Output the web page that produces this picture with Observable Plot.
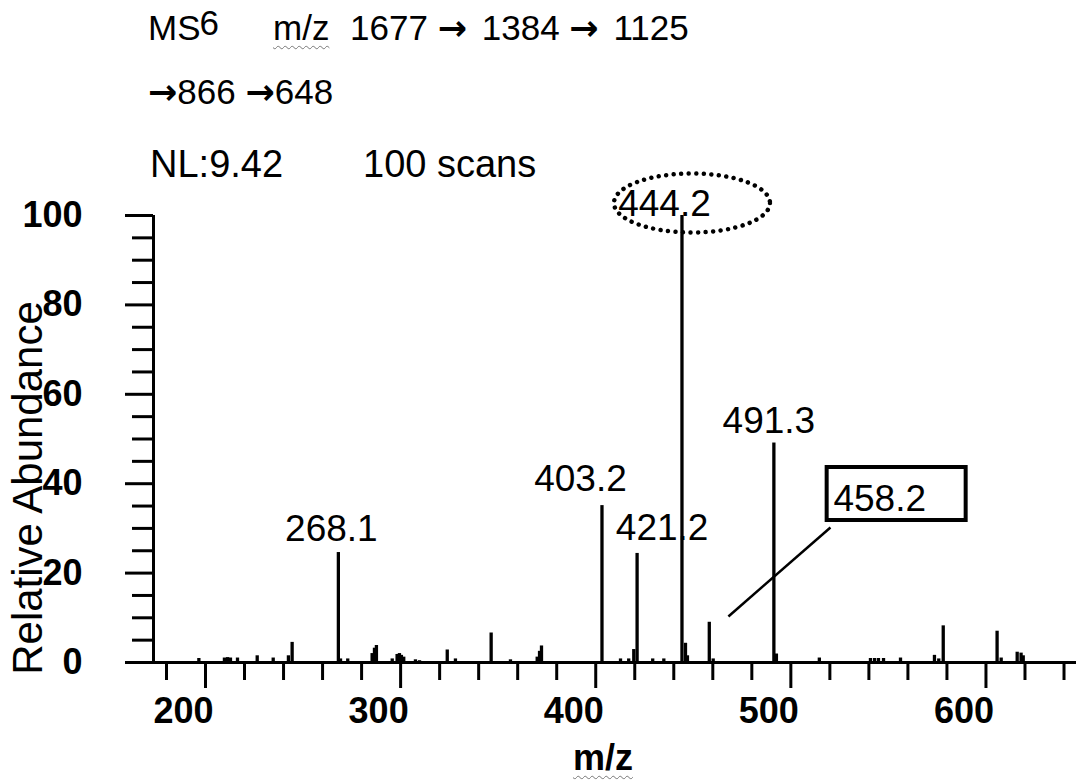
<!DOCTYPE html>
<html>
<head>
<meta charset="utf-8">
<script src="https://cdn.jsdelivr.net/npm/d3@7"></script>
<script src="https://cdn.jsdelivr.net/npm/@observablehq/plot@0.6"></script>
<style>
html, body { margin: 0; padding: 0; background: #fff; }
#wrap { position: relative; width: 1076px; height: 780px; overflow: hidden; font-family: "Liberation Sans", Arial, sans-serif; color: #000; background: #fff; }
#wrap svg { position: absolute; left: 0; top: 0; }
.t { position: absolute; white-space: pre; line-height: 1; }
.sq { text-decoration: underline wavy #777; text-decoration-thickness: 1px; text-underline-offset: 5px; }
.ar { font-family: "DejaVu Sans", sans-serif; font-weight: bold; }
.l1 .ar { margin-right: 5px; }
.l1 .sq { margin-right: 11px; }
</style>
</head>
<body>
<div id="wrap"></div>
<script>
// ---- data ----
const titleLine1a = "MS";
const titleLine1sup = "6";
const titleLine1b = ["m/z", "1677 \u2192 1384 \u2192 1125"];
const titleLine2 = "\u2192866 \u2192648";
const titleLine3a = "NL:9.42";
const titleLine3b = "100 scans";

const peakMz = [196.6, 209.7, 211.3, 212.8, 216.4, 226.5, 234.7, 242.5, 244.4, 268.1, 269.2, 272.9, 285.4, 286.6, 287.6, 295.7, 298.2, 299.4, 300.4, 301.6, 307.6, 309.7, 323.9, 328.1, 346.4, 356.3, 370.0, 371.2, 372.2, 403.2, 412.7, 416.9, 419.5, 421.2, 429.2, 434.9, 444.2, 446.0, 447.0, 458.2, 460.2, 491.3, 492.6, 514.6, 540.8, 542.9, 544.9, 547.5, 556.2, 573.6, 575.8, 578.1, 605.7, 607.8, 616.0, 618.0, 619.1];
const peakAbundance = [0.9, 1.0, 1.1, 1.0, 1.0, 1.5, 1.0, 1.5, 4.5, 24.6, 0.8, 0.8, 2.0, 3.2, 3.8, 0.8, 1.8, 2.0, 1.6, 1.2, 0.6, 0.4, 2.8, 0.8, 6.6, 0.6, 1.2, 2.5, 3.7, 35.1, 0.8, 0.8, 2.9, 24.4, 0.8, 0.8, 100, 4.3, 1.5, 9.0, 0.8, 49.1, 1.9, 1.0, 0.9, 0.9, 0.9, 0.9, 1.0, 1.6, 0.8, 8.2, 7.0, 1.0, 2.3, 2.1, 1.5];

const labelText = ["268.1", "403.2", "421.2", "444.2", "491.3"];
const labelMz = [268.1, 403.2, 421.2, 444.2, 491.3];
const labelAbundance = [24.6, 35.1, 24.4, 100, 49.1];

const calloutText = ["458.2"];
const calloutFrom = [468.0, 10.3];   // leader start (m/z, abundance)
const calloutTo = [520.3, 30.2];     // leader end / box anchor (m/z, abundance)

const xDomain = [173.35, 646.4];
const xMajorTicks = [200, 300, 400, 500, 600];
const xMinorTicks = [180, 220, 240, 260, 280, 320, 340, 360, 380, 420, 440, 460, 480, 520, 540, 560, 580, 620, 640];
const yMajorTicks = [0, 20, 40, 60, 80, 100];
const yMinorTicks = [5, 10, 15, 25, 30, 35, 45, 50, 55, 65, 70, 75, 85, 90, 95];

const xLabel = "m/z";
const yLabel = "Relative Abundance";

// ---- styles (offsets in px) ----
const labelOffsets = {
  "268.1": [-7, -12],
  "403.2": [-21.5, -15],
  "421.2": [25, -13],
  "444.2": [-17.5, 0],
  "491.3": [-5, -10]
};

// ---- tables ----
const peaks = peakMz.map((mz, i) => ({mz, ab: peakAbundance[i]}));
const labels = labelText.map((t, i) => ({label: t, mz: labelMz[i], ab: labelAbundance[i]}));
const callout = calloutText.map(t => ({label: t, fromMz: calloutFrom[0], fromAb: calloutFrom[1], toMz: calloutTo[0], toAb: calloutTo[1]}));

const ellipseSymbol = {
  draw(ctx) {
    const rx = 78, ry = 29.5, k = 0.5523;
    ctx.moveTo(rx, 0);
    ctx.bezierCurveTo(rx, k * ry, k * rx, ry, 0, ry);
    ctx.bezierCurveTo(-k * rx, ry, -rx, k * ry, -rx, 0);
    ctx.bezierCurveTo(-rx, -k * ry, -k * rx, -ry, 0, -ry);
    ctx.bezierCurveTo(k * rx, -ry, rx, -k * ry, rx, 0);
    ctx.closePath();
  }
};

const font = "Liberation Sans, Arial, sans-serif";

const marks = [
  // axis lines
  Plot.ruleY([0], {stroke: "#000", strokeWidth: 3}),
  Plot.ruleX([xDomain[0]], {y1: 0, y2: 100, stroke: "#000", strokeWidth: 3}),
  // y axis
  Plot.axisY({ticks: yMajorTicks, tickSize: 28, tickPadding: 43, fontSize: 36, fontWeight: "bold", fontFamily: font, strokeWidth: 3, label: null, tickFormat: d => String(d)}),
  Plot.axisY({ticks: yMinorTicks, tickSize: 21, tickFormat: () => "", strokeWidth: 3, label: null}),
  // x axis
  Plot.axisX({ticks: xMajorTicks, tickSize: 26, tickFormat: () => "", strokeWidth: 3, label: null}),
  Plot.axisX({ticks: xMinorTicks, tickSize: 18, tickFormat: () => "", strokeWidth: 3, label: null}),
  Plot.axisX({ticks: xMajorTicks, tickSize: 0, tickPadding: 35, dx: -22, fontSize: 36, fontWeight: "bold", fontFamily: font, label: null, tickFormat: d => String(d)}),
  // spectrum
  Plot.ruleX(peaks, {x: "mz", y1: 0, y2: "ab", stroke: "#000", strokeWidth: 3.3}),
  // peak labels
  ...labels.map(d => Plot.text([d], {
    x: "mz", y: "ab", text: "label",
    dx: labelOffsets[d.label][0], dy: labelOffsets[d.label][1],
    lineAnchor: "bottom", textAnchor: "middle",
    fontSize: 37, fontFamily: font, fill: "#000"
  })),
  // dotted ellipse around base peak label
  Plot.dot(labels.filter(d => d.label === "444.2"), {
    x: "mz", y: "ab", symbol: ellipseSymbol, r: 10, dx: 10, dy: -12.5,
    fill: "none", stroke: "#000", strokeWidth: 4.5, strokeDasharray: "0.01 7.5", strokeLinecap: "round"
  }),
  // callout
  Plot.link(callout, {x1: "fromMz", y1: "fromAb", x2: "toMz", y2: "toAb", stroke: "#000", strokeWidth: 2.5}),
  Plot.rect(callout, {
    x1: "toMz", x2: "toMz", y1: "toAb", y2: "toAb",
    insetLeft: -3.3, insetRight: -135.7, insetTop: -60, insetBottom: 7,
    fill: "none", stroke: "#000", strokeWidth: 4
  }),
  Plot.text(callout, {x: "toMz", y: "toAb", text: "label", dx: 3, dy: -17, textAnchor: "start", lineAnchor: "bottom", fontSize: 37, fontFamily: font, fill: "#000"})
];

const svg = Plot.plot({
  width: 1076,
  height: 780,
  marginLeft: 153,
  marginRight: 0,
  marginTop: 215,
  marginBottom: 118,
  x: {domain: xDomain},
  y: {domain: [0, 100]},
  style: {fontFamily: font, background: "white", color: "#000", overflow: "visible"},
  marks
});

const wrap = document.getElementById("wrap");
wrap.appendChild(svg);

// ---- title and axis titles (HTML) ----
function arrows(s) {
  return s.replace(/\u2192/g, '<span class="ar">\u2192</span>');
}
function addText(html, left, baseline, size, extra, cls) {
  const el = document.createElement("div");
  el.className = "t" + (cls ? " " + cls : "");
  el.style.left = left + "px";
  el.style.top = (baseline - 0.8465 * size) + "px";
  el.style.fontSize = size + "px";
  if (extra) Object.assign(el.style, extra);
  el.innerHTML = html;
  wrap.appendChild(el);
  return el;
}
addText(titleLine1a + '<span style="position:relative;top:-5px;margin-left:-1px">' + titleLine1sup + '</span>', 148, 40, 35);
addText('<span class="sq">' + titleLine1b[0] + '</span> ' + arrows(titleLine1b[1]), 273, 40, 35, null, "l1");
addText(arrows(titleLine2), 148, 104, 35);
addText(titleLine3a, 150, 177, 38);
addText(titleLine3b, 363, 177, 38);

// x-axis title (centered at x=603, baseline 770)
addText('<span class="sq">' + xLabel + '</span>', 603, 770, 36, {transform: "translateX(-50%)", fontWeight: "bold"});

// y-axis title, rotated
const yl = document.createElement("div");
yl.className = "t";
yl.style.fontSize = "42px";
yl.style.left = "28px";
yl.style.top = "488px";
yl.style.transform = "translate(-50%, -50%) rotate(-90deg)";
yl.textContent = yLabel;
wrap.appendChild(yl);
</script>
</body>
</html>
